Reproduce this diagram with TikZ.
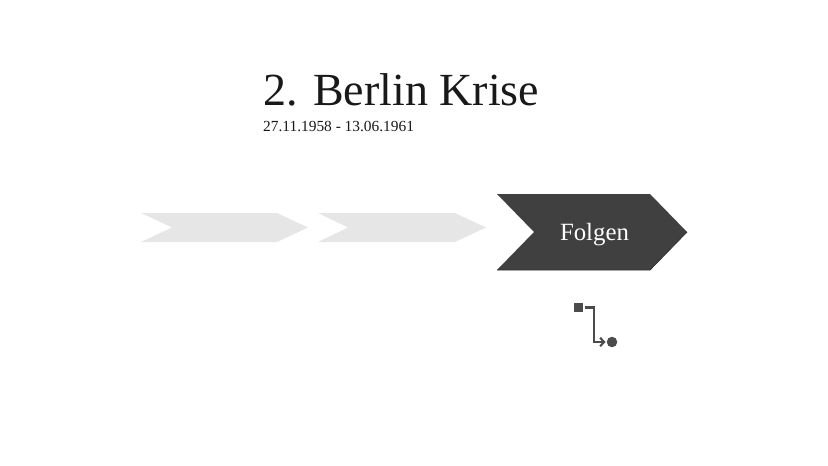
\documentclass[tikz,border=0pt]{standalone}
\usepackage{fontspec}
\setmainfont{Liberation Serif}
\usetikzlibrary{arrows.meta}
\definecolor{pastelgrey}{RGB}{230,230,230}
\definecolor{darkgrey}{RGB}{64,64,64}
\definecolor{icongrey}{RGB}{75,75,75}

\begin{document}
\begin{tikzpicture}[x=1pt,y=-1pt,
    txt/.style={inner sep=0pt,anchor=base west,text=black!90},
    link/.style={draw=icongrey,line width=2.1pt,-{Straight Barb[length=4pt,width=8.5pt]},shorten <=2pt,shorten >=1pt}]
    \useasboundingbox (0,0) rectangle (828,466);

    % Title and dates
    \node[txt,font=\fontsize{46}{50}\selectfont] (title) at (263,105) {2. Berlin Krise};
    \node[txt,font=\fontsize{15.4}{18}\selectfont] (dates) at (263,131) {27.11.1958 - 13.06.1961};

    % Pale arrows
    \fill[pastelgrey] (141,213) -- (277,213) -- (308,227.5) -- (277,242) -- (141,242) -- (172,227.5) -- cycle;
    \fill[pastelgrey] (318,213) -- (455,213) -- (486,227.5) -- (455,242) -- (318,242) -- (348,227.5) -- cycle;

    % Dark arrow
    \fill[darkgrey] (497,194) -- (650,194) -- (687,232) -- (650,270) -- (497,270) -- (534,232) -- cycle;
    \draw[black!80,line width=0.8pt] (497,270) -- (650,270) -- (687,232);
    \node[txt,anchor=base,text=white,font=\fontsize{24.8}{28}\selectfont] (folgen) at (594.5,240) {Folgen};

    % Small icon
    \node[draw=none,fill=icongrey,minimum size=9pt,inner sep=0pt] (start) at (578.5,307.5) {};
    \node[circle,fill=icongrey,minimum size=10.5pt,inner sep=0pt] (end) at (612,342) {};
    \coordinate (bend) at (594,342);

    % Draw edge
    \draw[link] (start) -| (bend) -- (end);
\end{tikzpicture}
\end{document}
